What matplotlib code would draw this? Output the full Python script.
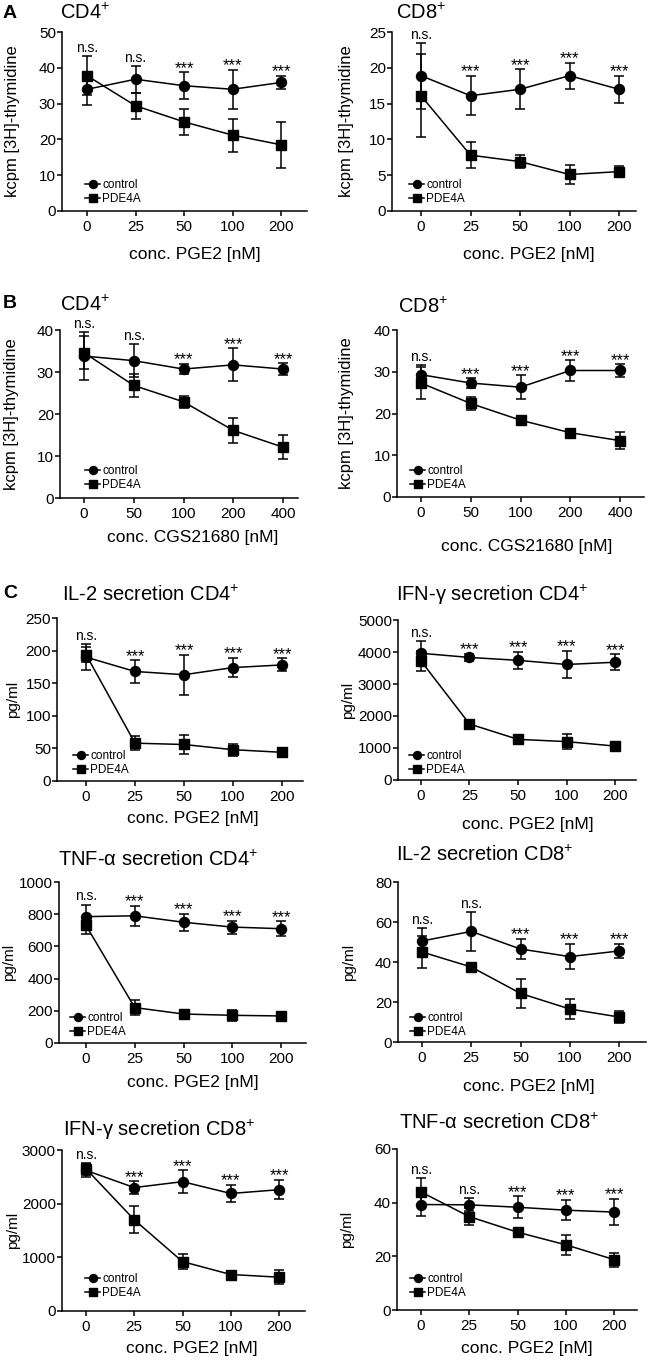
import matplotlib
matplotlib.use("Agg")
import matplotlib.pyplot as plt

plt.rcParams['font.family'] = ['Liberation Sans', 'DejaVu Sans']
plt.rcParams['mathtext.fontset'] = 'custom'
plt.rcParams['mathtext.rm'] = 'Liberation Sans'
plt.rcParams['mathtext.it'] = 'Liberation Sans:italic'
plt.rcParams['mathtext.default'] = 'regular'

# ---------------- data ----------------
pge2_doses = ['0', '25', '50', '100', '200']
cgs_doses = ['0', '50', '100', '200', '400']
series_names = ['control', 'PDE4A']

a_cd4_ctrl = [34.0, 36.8, 35.0, 34.0, 35.9]
a_cd4_ctrl_err = [4.5, 3.7, 3.7, 5.5, 1.8]
a_cd4_pde = [37.8, 29.4, 24.9, 21.2, 18.5]
a_cd4_pde_err = [5.4, 3.6, 3.6, 4.6, 6.4]
a_cd4_sig = ['n.s.', 'n.s.', '***', '***', '***']

a_cd8_ctrl = [18.9, 16.1, 17.0, 18.9, 17.0]
a_cd8_ctrl_err = [4.6, 2.75, 2.8, 1.8, 1.85]
a_cd8_pde = [16.1, 7.8, 6.9, 5.1, 5.5]
a_cd8_pde_err = [5.8, 1.8, 0.9, 1.35, 0.8]
a_cd8_sig = ['n.s.', '***', '***', '***', '***']

b_cd4_ctrl = [33.8, 32.7, 30.7, 31.7, 30.7]
b_cd4_ctrl_err = [5.8, 3.9, 1.2, 3.9, 1.4]
b_cd4_pde = [34.6, 26.8, 22.9, 16.1, 12.1]
b_cd4_pde_err = [4.0, 2.8, 1.4, 3.0, 2.9]
b_cd4_sig = ['n.s.', 'n.s.', '***', '***', '***']

b_cd8_ctrl = [29.3, 27.3, 26.3, 30.3, 30.3]
b_cd8_ctrl_err = [2.3, 1.1, 2.9, 2.4, 1.5]
b_cd8_pde = [27.3, 22.4, 18.4, 15.4, 13.5]
b_cd8_pde_err = [3.9, 1.5, 0.8, 0.7, 2.0]
b_cd8_sig = ['n.s.', '***', '***', '***', '***']

il2_cd4_ctrl = [190, 168, 163, 174, 178]
il2_cd4_ctrl_err = [20, 17, 31, 15, 10]
il2_cd4_pde = [194, 58, 56, 48, 44]
il2_cd4_pde_err = [12, 11, 15, 9, 7]
il2_cd4_sig = ['n.s.', '***', '***', '***', '***']

ifn_cd4_ctrl = [3960, 3830, 3740, 3610, 3680]
ifn_cd4_ctrl_err = [380, 120, 260, 420, 255]
ifn_cd4_pde = [3720, 1750, 1270, 1200, 1060]
ifn_cd4_pde_err = [300, 60, 150, 230, 50]
ifn_cd4_sig = ['n.s.', '***', '***', '***', '***']

tnf_cd4_ctrl = [785, 790, 750, 720, 710]
tnf_cd4_ctrl_err = [75, 62, 52, 40, 45]
tnf_cd4_pde = [730, 220, 180, 172, 168]
tnf_cd4_pde_err = [50, 47, 15, 33, 15]
tnf_cd4_sig = ['n.s.', '***', '***', '***', '***']

il2_cd8_ctrl = [50.5, 55.3, 46.5, 42.7, 45.5]
il2_cd8_ctrl_err = [6.3, 9.8, 5.2, 6.3, 3.5]
il2_cd8_pde = [45.0, 37.5, 24.3, 16.5, 12.5]
il2_cd8_pde_err = [8.2, 1.8, 7.4, 4.8, 3.0]
il2_cd8_sig = ['n.s.', 'n.s.', '***', '***', '***']

ifn_cd8_ctrl = [2620, 2300, 2410, 2190, 2260]
ifn_cd8_ctrl_err = [120, 120, 210, 160, 180]
ifn_cd8_pde = [2650, 1700, 920, 680, 630]
ifn_cd8_pde_err = [110, 250, 135, 60, 135]
ifn_cd8_sig = ['n.s.', '***', '***', '***', '***']

tnf_cd8_ctrl = [39.3, 39.2, 38.3, 37.2, 36.5]
tnf_cd8_ctrl_err = [4.3, 2.4, 4.0, 3.8, 5.0]
tnf_cd8_pde = [44.0, 34.8, 29.0, 24.3, 18.8]
tnf_cd8_pde_err = [5.3, 3.2, 1.2, 3.7, 2.6]
tnf_cd8_sig = ['n.s.', 'n.s.', '***', '***', '***']

# ---------------- layout (pixels) ----------------
W, H = 648, 1371
fig = plt.figure(figsize=(W / 100, H / 100), dpi=100)

panels = [
    dict(box=(62, 307, 32, 211), x0=87, dx=48.5, title='CD4$^{+}$', tpos=(60, 13),
         ylab='kcpm [3H]-thymidine', ylx=13, yls=12, xlab='conc. PGE2 [nM]', xlpos=(195, 255),
         leg=(85, 205), yt=range(0, 51, 10), ymax=50, cats=pge2_doses,
         c=a_cd4_ctrl, ce=a_cd4_ctrl_err, p=a_cd4_pde, pe=a_cd4_pde_err, sig=a_cd4_sig),
    dict(box=(392, 636, 32, 211), x0=421, dx=49.5, title='CD8$^{+}$', tpos=(396, 13),
         ylab='kcpm [3H]-thymidine', ylx=347, yls=12, xlab='conc. PGE2 [nM]', xlpos=(529, 255),
         leg=(409, 205), yt=range(0, 26, 5), ymax=25, cats=pge2_doses,
         c=a_cd8_ctrl, ce=a_cd8_ctrl_err, p=a_cd8_pde, pe=a_cd8_pde_err, sig=a_cd8_sig),
    dict(box=(60, 298, 330, 498), x0=84, dx=49.75, title='CD4$^{+}$', tpos=(60, 305),
         ylab='kcpm [3H]-thymidine', ylx=12, yls=12, xlab='conc. CGS21680 [nM]', xlpos=(193, 537),
         leg=(85, 491), yt=range(0, 41, 10), ymax=40, cats=cgs_doses,
         c=b_cd4_ctrl, ce=b_cd4_ctrl_err, p=b_cd4_pde, pe=b_cd4_pde_err, sig=b_cd4_sig),
    dict(box=(397, 644, 330, 497), x0=421, dx=49.75, title='CD8$^{+}$', tpos=(398, 307),
         ylab='kcpm [3H]-thymidine', ylx=347, yls=12, xlab='conc. CGS21680 [nM]', xlpos=(527, 546),
         leg=(410, 491), yt=range(0, 41, 10), ymax=40, cats=cgs_doses,
         c=b_cd8_ctrl, ce=b_cd8_ctrl_err, p=b_cd8_pde, pe=b_cd8_pde_err, sig=b_cd8_sig),
    dict(box=(57, 303, 618, 781), x0=86, dx=49, title='IL-2 secretion CD4$^{+}$', tpos=(62, 595),
         ylab='pg/ml', ylx=13, yls=11, xlab='conc. PGE2 [nM]', xlpos=(193, 818),
         leg=(73, 776), yt=range(0, 251, 50), ymax=250, cats=pge2_doses,
         c=il2_cd4_ctrl, ce=il2_cd4_ctrl_err, p=il2_cd4_pde, pe=il2_cd4_pde_err, sig=il2_cd4_sig),
    dict(box=(398, 636, 620, 780), x0=421, dx=48.5, title='IFN-γ secretion CD4$^{+}$', tpos=(396, 595),
         ylab='pg/ml', ylx=348, yls=11, xlab='conc. PGE2 [nM]', xlpos=(528, 825),
         leg=(409, 776), yt=range(0, 5001, 1000), ymax=5000, cats=pge2_doses,
         c=ifn_cd4_ctrl, ce=ifn_cd4_ctrl_err, p=ifn_cd4_pde, pe=ifn_cd4_pde_err, sig=ifn_cd4_sig),
    dict(box=(59, 306, 882, 1043), x0=86, dx=48.75, title='TNF-α secretion CD4$^{+}$', tpos=(58, 860),
         ylab='pg/ml', ylx=9, yls=11, xlab='conc. PGE2 [nM]', xlpos=(193, 1083),
         leg=(70, 1038), yt=range(0, 1001, 200), ymax=1000, cats=pge2_doses,
         c=tnf_cd4_ctrl, ce=tnf_cd4_ctrl_err, p=tnf_cd4_pde, pe=tnf_cd4_pde_err, sig=tnf_cd4_sig),
    dict(box=(398, 646, 882, 1042), x0=422, dx=49.25, title='IL-2 secretion CD8$^{+}$', tpos=(396, 855),
         ylab='pg/ml', ylx=349, yls=11, xlab='conc. PGE2 [nM]', xlpos=(529, 1087),
         leg=(410, 1038), yt=range(0, 81, 20), ymax=80, cats=pge2_doses,
         c=il2_cd8_ctrl, ce=il2_cd8_ctrl_err, p=il2_cd8_pde, pe=il2_cd8_pde_err, sig=il2_cd8_sig),
    dict(box=(62, 305, 1150, 1311), x0=86, dx=48.25, title='IFN-γ secretion CD8$^{+}$', tpos=(63, 1130),
         ylab='pg/ml', ylx=13, yls=11, xlab='conc. PGE2 [nM]', xlpos=(192, 1348),
         leg=(85, 1299), yt=range(0, 3001, 1000), ymax=3000, cats=pge2_doses,
         c=ifn_cd8_ctrl, ce=ifn_cd8_ctrl_err, p=ifn_cd8_pde, pe=ifn_cd8_pde_err, sig=ifn_cd8_sig),
    dict(box=(397, 637, 1149, 1310), x0=421, dx=48.25, title='TNF-α secretion CD8$^{+}$', tpos=(399, 1123),
         ylab='pg/ml', ylx=347, yls=11, xlab='conc. PGE2 [nM]', xlpos=(527, 1348),
         leg=(410, 1299), yt=range(0, 61, 20), ymax=60, cats=pge2_doses,
         c=tnf_cd8_ctrl, ce=tnf_cd8_ctrl_err, p=tnf_cd8_pde, pe=tnf_cd8_pde_err, sig=tnf_cd8_sig),
]

LW = 1.1
for P in panels:
    L, R, T, B = P['box']
    ax = fig.add_axes([L / W, 1 - B / H, (R - L) / W, (B - T) / H])
    xs = list(range(len(P['cats'])))
    ec = ax.errorbar(xs, P['c'], yerr=P['ce'], fmt='-o', color='black', ms=7.2, lw=LW,
                     elinewidth=LW, capsize=3.6, capthick=LW, clip_on=False, zorder=3)
    ep = ax.errorbar(xs, P['p'], yerr=P['pe'], fmt='-s', color='black', ms=7.0, lw=LW,
                     elinewidth=LW, capsize=3.6, capthick=LW, clip_on=False, zorder=3)
    ax.set_xlim((L - P['x0']) / P['dx'], (R - P['x0']) / P['dx'])
    ax.set_ylim(0, P['ymax'])
    ax.set_yticks(list(P['yt']))
    ax.set_xticks(xs)
    ax.set_xticklabels(P['cats'])
    for s in ['top', 'right']:
        ax.spines[s].set_visible(False)
    for s in ['left', 'bottom']:
        ax.spines[s].set_linewidth(LW)
    ax.tick_params(axis='y', direction='out', length=3.6, width=LW, labelsize=11, pad=0.8)
    ax.tick_params(axis='x', direction='out', length=3.6, width=LW, labelsize=11, pad=3)
    ax.set_ylabel(P['ylab'], fontsize=P['yls'], va='center')
    ax.yaxis.set_label_coords((P['ylx'] - L) / (R - L), 0.5)
    ax.set_xlabel(P['xlab'], fontsize=12.5, va='center')
    ax.xaxis.set_label_coords((P['xlpos'][0] - L) / (R - L), (B - P['xlpos'][1]) / (B - T))
    # significance labels
    for i, lab in enumerate(P['sig']):
        top = max(P['c'][i] + P['ce'][i], P['p'][i] + P['pe'][i])
        if lab == '***':
            ax.annotate(lab, (xs[i], top), xytext=(0, -0.4), textcoords='offset points',
                        ha='center', va='baseline', fontsize=12, annotation_clip=False)
        else:
            ax.annotate(lab, (xs[i], top), xytext=(0, 3), textcoords='offset points',
                        ha='center', va='baseline', fontsize=10, annotation_clip=False)
    lx, ly = P['leg']
    ax.legend([ec.lines[0], ep.lines[0]], series_names, loc='lower left',
              bbox_to_anchor=(lx / W, 1 - ly / H), bbox_transform=fig.transFigure,
              frameon=False, borderpad=0, borderaxespad=0, handlelength=1.3,
              handletextpad=0.15, labelspacing=0.15, fontsize=8.5, markerscale=0.8)
    fig.text(P['tpos'][0] / W, 1 - P['tpos'][1] / H, P['title'], fontsize=14.5,
             ha='left', va='center')

for lab, y in [('A', 13), ('B', 303), ('C', 594)]:
    fig.text(3 / W, 1 - y / H, lab, fontsize=14, fontweight='bold', ha='left', va='center')

fig.savefig('out.png', dpi=100)
